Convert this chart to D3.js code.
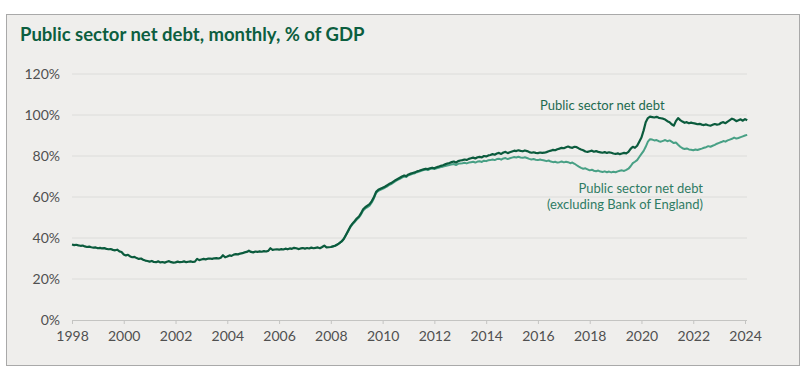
<!DOCTYPE html>
<html>
<head>
<meta charset="utf-8">
<script src="https://cdn.jsdelivr.net/npm/d3@7"></script>
<style>
  body { margin: 0; background: #fff; }
  svg { display: block; font-family: Lato, "Open Sans", sans-serif; }
</style>
</head>
<body>
<svg id="chart" width="811" height="379"></svg>
<script>
var title = 'Public sector net debt, monthly, % of GDP';
var yTicks = [0, 20, 40, 60, 80, 100, 120];
var xTicks = [1998, 2000, 2002, 2004, 2006, 2008, 2010, 2012, 2014, 2016, 2018, 2020, 2022, 2024];

// monthly, from Jan 1998
var psndStart = [1998, 0];
var psnd = [
  36.8, 36.5, 36.7, 36.4, 36.2, 36.3, 35.9, 35.6, 35.8, 35.5, 35.3, 35.4,
  35.0, 35.2, 34.9, 35.1, 34.7, 34.5, 34.6, 34.2, 34.0, 34.3, 33.5, 33.2,
  32.0, 31.5, 31.8, 31.0, 30.6, 30.8, 30.2, 29.8, 30.0, 29.4, 29.0, 28.8,
  28.5, 28.8, 28.3, 28.2, 28.6, 28.1, 28.3, 28.0, 28.4, 28.7, 28.2, 28.0,
  28.1, 28.5, 28.2, 28.3, 28.6, 28.2, 28.4, 28.6, 28.3, 28.5, 29.8, 29.2,
  29.5, 29.8, 29.6, 29.9, 30.0, 29.8, 30.1, 30.2, 30.0, 30.4, 31.6, 30.6,
  31.0, 31.5, 31.3, 31.9, 32.1, 32.0, 32.4, 32.6, 33.0, 33.2, 33.8, 33.2,
  33.0, 33.4, 33.2, 33.5, 33.3, 33.6, 33.4, 33.7, 35.0, 34.2, 34.4, 34.5,
  34.3, 34.6, 34.4, 34.8, 34.5, 34.9, 34.7, 35.2, 35.0, 34.6, 34.9, 35.1,
  34.8, 35.1, 34.9, 35.3, 35.0, 35.2, 35.4, 35.0, 35.6, 36.3, 35.4, 35.5,
  35.6, 35.9, 36.2, 36.8, 37.5, 38.3, 39.5, 41.5, 43.5, 45.5, 47.0, 48.2,
  49.5, 50.5, 52.0, 54.0, 55.0, 55.8, 56.5, 58.0, 60.0, 62.5, 63.5, 64.0,
  64.5, 65.0, 65.6, 66.3, 66.8, 67.5, 68.2, 68.8, 69.4, 70.0, 70.5, 70.2,
  71.0, 71.4, 71.7, 72.0, 72.5, 72.8, 73.2, 73.5, 73.8, 73.6, 74.0, 74.3,
  74.0, 74.5, 74.8, 75.2, 75.5, 75.9, 76.3, 76.6, 77.0, 77.3, 76.8, 77.5,
  77.8, 78.0, 78.3, 78.1, 78.6, 78.9, 79.2, 78.8, 79.4, 79.6, 79.3, 80.0,
  79.8, 80.3, 80.5, 80.9, 80.6, 81.2, 81.5, 81.0, 81.7, 82.0, 81.4, 81.8,
  82.2, 82.6, 82.4, 82.8, 82.5, 82.3, 82.7, 82.4, 81.9, 81.6, 81.8, 81.5,
  81.4, 81.7, 81.5, 81.6, 81.9, 82.3, 82.6, 83.0, 82.8, 83.3, 83.6, 84.0,
  83.8, 84.3, 84.6, 84.2, 84.0, 84.5, 84.3, 83.7, 83.2, 82.8, 82.2, 82.0,
  82.3, 82.6, 82.1, 82.4, 82.0, 81.8, 81.6, 81.9, 81.5, 81.8, 81.6, 81.2,
  81.0, 81.3, 80.9, 81.2, 81.5, 81.3, 82.0, 83.5, 84.5, 84.0, 85.0, 87.0,
  89.0, 92.5, 96.5, 98.5, 99.2, 99.0, 98.8, 99.1, 98.6, 98.4, 98.2, 97.8,
  97.0, 96.5, 95.5, 94.8, 97.0, 98.5, 97.5, 96.8, 96.2, 96.5, 96.0, 96.3,
  96.0, 95.8, 95.5, 95.7, 95.3, 95.1, 95.4, 95.0, 94.8, 95.2, 95.6, 95.3,
  95.5, 96.2, 96.5, 96.0, 96.8, 97.5, 98.2, 97.8, 97.0, 97.4, 97.9, 97.2,
  98.0, 97.4
];

// monthly, from Jan 2008 (same as psnd before)
var exBoeStart = [2008, 0];
var psndExBoe = [
  35.6, 35.9, 36.2, 36.8, 37.5, 38.3, 39.5, 41.3, 43.2, 45.2, 46.6, 47.8,
  49.0, 50.0, 51.4, 53.4, 54.4, 55.1, 55.8, 57.3, 59.4, 62.0, 63.0, 63.5,
  64.0, 64.5, 65.1, 65.8, 66.3, 67.0, 67.7, 68.3, 68.9, 69.5, 70.0, 69.8,
  70.6, 71.0, 71.3, 71.6, 72.1, 72.4, 72.8, 73.1, 73.4, 73.2, 73.6, 73.9,
  73.6, 74.0, 74.3, 74.6, 74.8, 75.1, 75.4, 75.6, 75.9, 76.1, 75.6, 76.2,
  76.4, 76.5, 76.7, 76.4, 76.8, 77.0, 77.2, 76.8, 77.3, 77.4, 77.1, 77.7,
  77.5, 77.9, 78.0, 78.3, 78.0, 78.5, 78.7, 78.2, 78.8, 79.0, 78.5, 78.9,
  79.2, 79.5, 79.3, 79.6, 79.3, 79.1, 79.4, 79.0, 78.6, 78.3, 78.5, 78.2,
  78.0, 78.3, 78.0, 77.8, 77.5, 77.8, 77.3, 77.0, 77.2, 76.8, 77.0, 77.3,
  76.9, 77.2, 77.0, 76.5, 76.8, 76.2, 75.5, 74.8, 74.2, 73.8, 74.0, 73.5,
  73.0, 73.3, 72.8, 72.6, 72.9, 72.4, 72.2, 72.5, 72.1, 72.4, 72.0, 72.3,
  72.1, 72.5, 72.8, 73.0, 72.7, 73.2, 73.8, 75.0, 76.5, 77.2, 78.0, 79.5,
  81.0, 82.5, 84.5, 87.0, 88.2, 88.0, 87.6, 87.8, 87.2, 87.0, 87.4, 87.8,
  87.2, 87.6, 87.0, 86.3, 86.6, 85.5, 84.5, 83.8, 83.4, 83.7, 83.2, 83.0,
  82.8, 83.2, 82.9, 83.3, 83.6, 84.0, 84.3, 84.8, 84.5, 85.0, 85.4, 86.0,
  86.4, 86.8, 87.3, 87.0, 87.6, 88.0, 88.4, 89.0, 88.5, 88.8, 89.2, 89.6,
  90.0, 90.3
];

function monthly(values, start) {
  return values.map(function(v, i) {
    return { date: new Date(start[0], start[1] + i, 1), value: v };
  });
}

var svg = d3.select('#chart');
var margin = { left: 72, right: 745, top: 74, bottom: 320 };

svg.append('rect')
  .attr('x', 6.5).attr('y', 14.5)
  .attr('width', 793).attr('height', 351)
  .attr('fill', '#efeeec')
  .attr('stroke', '#a9a9a9');

svg.append('text')
  .attr('x', 20).attr('y', 41)
  .attr('fill', '#0c5e3f')
  .style('font-size', '18.5px')
  .style('font-weight', 700)
  .text(title);

var x = d3.scaleTime()
  .domain([new Date(1998, 0, 1), new Date(2024, 0, 1)])
  .range([margin.left, margin.right]);
var y = d3.scaleLinear()
  .domain([0, 120])
  .range([margin.bottom, margin.top]);

// gridlines
svg.append('g').selectAll('line')
  .data(yTicks.filter(function(d) { return d > 0; }))
  .enter().append('line')
  .attr('x1', margin.left).attr('x2', margin.right + 2)
  .attr('y1', function(d) { return y(d); })
  .attr('y2', function(d) { return y(d); })
  .attr('stroke', '#dcdcda')
  .attr('stroke-width', 1);

var yAxis = svg.append('g')
  .attr('transform', 'translate(' + margin.left + ',0)')
  .call(d3.axisLeft(y).tickValues(yTicks).tickSize(0).tickPadding(12)
    .tickFormat(function(d) { return d + '%'; }));
yAxis.select('.domain').remove();

var xAxis = svg.append('g')
  .attr('transform', 'translate(0,' + margin.bottom + ')')
  .call(d3.axisBottom(x)
    .tickValues(xTicks.map(function(d) { return new Date(d, 0, 1); }))
    .tickSize(4).tickPadding(7).tickSizeOuter(0)
    .tickFormat(d3.timeFormat('%Y')));
xAxis.select('.domain')
  .attr('d', 'M' + margin.left + ',0.5H' + (margin.right + 2))
  .attr('stroke', '#c4c4c2');
xAxis.selectAll('.tick line').attr('stroke', '#c4c4c2');

svg.selectAll('.tick text')
  .attr('fill', '#505050')
  .style('font-size', '14px')
  .style('font-family', 'Lato, "Open Sans", sans-serif');

var line = d3.line()
  .x(function(d) { return x(d.date); })
  .y(function(d) { return y(d.value); });

svg.append('path')
  .datum(monthly(psndExBoe, exBoeStart))
  .attr('d', line)
  .attr('fill', 'none')
  .attr('stroke', '#48a085')
  .attr('stroke-width', 2)
  .attr('stroke-linejoin', 'round');

svg.append('path')
  .datum(monthly(psnd, psndStart))
  .attr('d', line)
  .attr('fill', 'none')
  .attr('stroke', '#0b5b3d')
  .attr('stroke-width', 2.2)
  .attr('stroke-linejoin', 'round');

// series labels
svg.append('text')
  .attr('x', 540).attr('y', 110)
  .attr('fill', '#1d6a4f')
  .style('font-size', '13px')
  .text('Public sector net debt');

var exLabel = svg.append('text')
  .attr('text-anchor', 'end')
  .attr('fill', '#2f7c64')
  .style('font-size', '13px');
exLabel.append('tspan').attr('x', 703).attr('y', 193).text('Public sector net debt');
exLabel.append('tspan').attr('x', 703).attr('y', 209).text('(excluding Bank of England)');
</script>
</body>
</html>
